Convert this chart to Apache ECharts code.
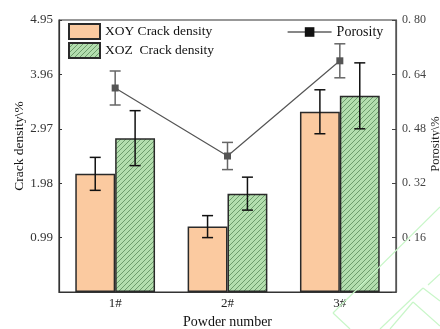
<!DOCTYPE html>
<html>
<head>
<meta charset="utf-8">
<script src="https://cdn.jsdelivr.net/npm/echarts@6/dist/echarts.min.js"></script>
<style>
  html, body { margin: 0; padding: 0; background: #fff; }
  #chart { width: 440px; height: 329px; }
</style>
</head>
<body>
<div id="chart"></div>
<script>
// Powder samples and measured values
const categories = ['1#', '2#', '3#'];
const xoyDensity = [2.15, 1.19, 3.28];
const xoyError = [0.30, 0.20, 0.40];
const xozDensity = [2.80, 1.79, 3.57];
const xozError = [0.50, 0.30, 0.60];
const porosity = [0.60, 0.40, 0.68];
const porosityError = [0.05, 0.04, 0.05];

const SERIF = '"Liberation Serif", "Times New Roman", serif';
const BAR_FRACTION = 0.355;

// Diagonal hatching for the XOZ bars
function hatchPattern() {
  const c = document.createElement('canvas');
  c.width = 5; c.height = 5;
  const g = c.getContext('2d');
  g.fillStyle = '#b3deae';
  g.fillRect(0, 0, 5, 5);
  g.strokeStyle = '#4f7f4f';
  g.lineWidth = 0.7;
  g.beginPath();
  g.moveTo(-1, 6); g.lineTo(6, -1);
  g.moveTo(-1, 1); g.lineTo(1, -1);
  g.moveTo(4, 6); g.lineTo(6, 4);
  g.stroke();
  return c;
}

// Error bars drawn at a bar's horizontal offset inside its category band
function errorBars(values, errors, side, color, yAxisIndex) {
  return {
    type: 'custom',
    yAxisIndex: yAxisIndex,
    z: 5,
    silent: true,
    data: values.map((v, i) => [i, v - errors[i], v + errors[i]]),
    renderItem: function (params, api) {
      const band = api.size([1, 0])[0];
      const dx = side * band * BAR_FRACTION / 2;
      const lo = api.coord([api.value(0), api.value(1)]);
      const hi = api.coord([api.value(0), api.value(2)]);
      const x = lo[0] + dx;
      const cap = 5.5;
      const style = { stroke: color, lineWidth: 1.5 };
      return {
        type: 'group',
        children: [
          { type: 'line', shape: { x1: x, y1: lo[1], x2: x, y2: hi[1] }, style: style },
          { type: 'line', shape: { x1: x - cap, y1: lo[1], x2: x + cap, y2: lo[1] }, style: style },
          { type: 'line', shape: { x1: x - cap, y1: hi[1], x2: x + cap, y2: hi[1] }, style: style }
        ]
      };
    }
  };
}

const chart = echarts.init(document.getElementById('chart'), null, { renderer: 'canvas' });

const watermark = '#c8f6c8';
const wmLines = [
  [[333, 313], [440, 207]],
  [[333, 313], [350, 329]],
  [[380, 329], [423, 288]],
  [[423, 288], [440, 301]],
  [[428, 285], [440, 274]],
  [[390, 329], [413, 302]],
  [[413, 302], [440, 326]]
];

const graphics = wmLines.map(p => ({
  type: 'line',
  silent: true,
  z: 100,
  shape: { x1: p[0][0], y1: p[0][1], x2: p[1][0], y2: p[1][1] },
  style: { stroke: watermark, lineWidth: 1.2 }
}));

// Vertical axis titles
graphics.push({
  type: 'text',
  x: 19, y: 146,
  rotation: Math.PI / 2,
  style: {
    text: 'Crack density\\%',
    font: '13.5px ' + SERIF,
    fill: '#111',
    textAlign: 'center',
    textVerticalAlign: 'middle'
  }
});
graphics.push({
  type: 'text',
  x: 436, y: 144,
  rotation: Math.PI / 2,
  style: {
    text: 'Porosity\\%',
    font: '12.5px ' + SERIF,
    fill: '#222',
    textAlign: 'center',
    textVerticalAlign: 'middle'
  }
});

chart.setOption({
  animation: false,
  backgroundColor: '#fff',
  textStyle: { fontFamily: SERIF },
  grid: {
    left: 59, right: 44, top: 20, bottom: 37,
    containLabel: false,
    outerBoundsMode: 'none',
    show: true, borderColor: '#333', borderWidth: 1.2, backgroundColor: 'transparent'
  },
  legend: [
    {
      data: ['XOY Crack density', 'XOZ  Crack density'],
      orient: 'vertical',
      left: 68, top: 23,
      padding: 0,
      icon: 'rect',
      itemWidth: 31, itemHeight: 15, itemGap: 2,
      textStyle: { fontFamily: SERIF, fontSize: 13.5, color: '#111' }
    },
    {
      data: ['Porosity'],
      left: 287, top: 25,
      padding: 0,
      itemWidth: 44, itemHeight: 12, itemGap: 5,
      itemStyle: { color: '#111' },
      lineStyle: { color: '#111', width: 1.2 },
      textStyle: { fontFamily: SERIF, fontSize: 14, color: '#111' }
    }
  ],
  xAxis: {
    type: 'category',
    data: categories,
    name: 'Powder number',
    nameLocation: 'middle',
    nameGap: 23,
    nameTextStyle: { fontFamily: SERIF, fontSize: 14, color: '#111' },
    axisLine: { lineStyle: { color: '#333', width: 1.2 } },
    axisTick: { show: false },
    axisLabel: { fontFamily: SERIF, fontSize: 13, color: '#222', margin: 5 }
  },
  yAxis: [
    {
      type: 'value',
      min: 0, max: 4.95, interval: 0.99,
      axisLine: { show: true, lineStyle: { color: '#333', width: 1.2 } },
      axisTick: { show: true, inside: true, length: 3, lineStyle: { color: '#333' } },
      splitLine: { show: false },
      axisLabel: {
        fontFamily: SERIF, fontSize: 13, color: '#333', margin: 6,
        formatter: v => (v === 0 ? '' : v.toFixed(2))
      }
    },
    {
      type: 'value',
      position: 'right',
      min: 0, max: 0.8, interval: 0.16,
      axisLine: { show: true, lineStyle: { color: '#555', width: 1.2 } },
      axisTick: { show: true, inside: true, length: 4, lineStyle: { color: '#444' } },
      splitLine: { show: false },
      axisLabel: {
        fontFamily: SERIF, fontSize: 12, color: '#444', margin: 6,
        formatter: v => (v === 0 ? '' : v.toFixed(2).replace('.', '. '))
      }
    }
  ],
  series: [
    {
      name: 'XOY Crack density',
      type: 'bar',
      data: xoyDensity,
      barWidth: (BAR_FRACTION * 100) + '%',
      barGap: '0%',
      itemStyle: { color: '#fbcaa0', borderColor: '#2a2a2a', borderWidth: 1.5 }
    },
    {
      name: 'XOZ  Crack density',
      type: 'bar',
      data: xozDensity,
      barWidth: (BAR_FRACTION * 100) + '%',
      barGap: '0%',
      itemStyle: {
        color: { image: hatchPattern(), repeat: 'repeat' },
        borderColor: '#2a2a2a', borderWidth: 1.5
      }
    },
    errorBars(xoyDensity, xoyError, -1, '#111', 0),
    errorBars(xozDensity, xozError, 1, '#111', 0),
    {
      name: 'Porosity',
      type: 'line',
      yAxisIndex: 1,
      data: porosity,
      z: 6,
      symbol: 'rect',
      symbolSize: 7,
      lineStyle: { color: '#555', width: 1.2 },
      itemStyle: { color: '#555' }
    },
    errorBars(porosity, porosityError, 0, '#666', 1)
  ],
  graphic: graphics
});
</script>
</body>
</html>
